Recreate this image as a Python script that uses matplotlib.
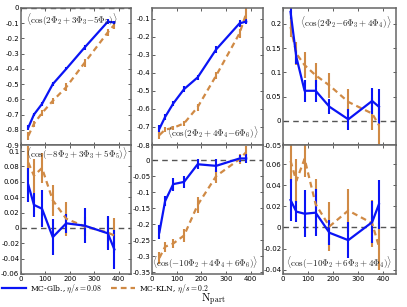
import matplotlib
matplotlib.use('Agg')
import matplotlib.pyplot as plt
from matplotlib.lines import Line2D

plt.rcParams['mathtext.fontset'] = 'cm'
plt.rcParams['font.size'] = 6

# Npart values (centrality bins)
npart = [30, 53, 86, 130, 185, 260, 355, 382]

# panel 1: <cos(2Phi2 + 3Phi3 - 5Phi5)>
glb1 = [-0.785, -0.70, -0.63, -0.50, -0.40, -0.26, -0.09, -0.095]
glb1_err = [0.015, 0.012, 0.012, 0.012, 0.01, 0.015, 0.015, 0.012]
kln1 = [-0.84, -0.76, -0.69, -0.61, -0.52, -0.36, -0.16, -0.11]
kln1_err = [0.025, 0.02, 0.02, 0.02, 0.025, 0.025, 0.025, 0.025]

# panel 2: <cos(2Phi2 + 4Phi4 - 6Phi6)>
glb2 = [-0.71, -0.645, -0.57, -0.49, -0.425, -0.27, -0.125, -0.115]
glb2_err = [0.02, 0.015, 0.015, 0.015, 0.015, 0.02, 0.02, 0.015]
kln2 = [-0.745, -0.715, -0.705, -0.68, -0.59, -0.415, -0.18, -0.07]
kln2_err = [0.02, 0.015, 0.01, 0.015, 0.02, 0.02, 0.025, 0.03]

# panel 3: <cos(2Phi2 - 6Phi3 + 4Phi4)>
glb3 = [0.225, 0.132, 0.062, 0.062, 0.029, 0.003, 0.041, 0.029]
glb3_err = [0.015, 0.015, 0.023, 0.023, 0.015, 0.022, 0.027, 0.036]
kln3 = [0.194, 0.139, 0.115, 0.094, 0.073, 0.039, 0.015, -0.009]
kln3_err = [0.02, 0.024, 0.027, 0.025, 0.026, 0.026, 0.033, 0.038]

# panel 4: <cos(-8Phi2 + 3Phi3 + 5Phi5)>
glb4 = [0.056, 0.03, 0.025, -0.012, 0.006, 0.003, -0.007, -0.028]
glb4_err = [0.022, 0.016, 0.024, 0.023, 0.012, 0.023, 0.022, 0.025]
kln4 = [0.085, 0.068, 0.078, 0.036, 0.012, 0.002, -0.006, -0.01]
kln4_err = [0.022, 0.022, 0.02, 0.02, 0.022, 0.012, 0.02, 0.023]

# panel 5: <cos(-10Phi2 + 4Phi4 + 6Phi6)>
glb5 = [-0.225, -0.128, -0.075, -0.068, -0.013, -0.018, 0.005, 0.005]
glb5_err = [0.022, 0.015, 0.02, 0.018, 0.015, 0.02, 0.01, 0.015]
kln5 = [-0.305, -0.27, -0.26, -0.235, -0.14, -0.05, 0.003, 0.025]
kln5_err = [0.02, 0.015, 0.015, 0.02, 0.025, 0.02, 0.015, 0.02]

# panel 6: <cos(-10Phi2 + 6Phi3 + 4Phi4)>
glb6 = [0.026, 0.015, 0.013, 0.014, -0.005, -0.012, 0.005, 0.022]
glb6_err = [0.02, 0.01, 0.022, 0.022, 0.012, 0.017, 0.02, 0.023]
kln6 = [0.063, 0.044, 0.065, 0.022, 0.001, 0.016, 0.004, -0.018]
kln6_err = [0.021, 0.021, 0.017, 0.024, 0.023, 0.02, 0.022, 0.022]

labels = [r'$\langle\cos(2\Phi_2+3\Phi_3{-}5\Phi_5)\rangle$',
          r'$\langle\cos(2\Phi_2+4\Phi_4{-}6\Phi_6)\rangle$',
          r'$\langle\cos(2\Phi_2{-}6\Phi_3+4\Phi_4)\rangle$',
          r'$\langle\cos(-8\Phi_2+3\Phi_3+5\Phi_5)\rangle$',
          r'$\langle\cos(-10\Phi_2+4\Phi_4+6\Phi_6)\rangle$',
          r'$\langle\cos(-10\Phi_2+6\Phi_3+4\Phi_4)\rangle$']

glb = [glb1, glb2, glb3, glb4, glb5, glb6]
glb_err = [glb1_err, glb2_err, glb3_err, glb4_err, glb5_err, glb6_err]
kln = [kln1, kln2, kln3, kln4, kln5, kln6]
kln_err = [kln1_err, kln2_err, kln3_err, kln4_err, kln5_err, kln6_err]

ylims = [(-0.9, 0.0), (-0.8, -0.04), (-0.05, 0.233),
         (-0.06, 0.108), (-0.355, 0.047), (-0.044, 0.078)]
yticks = [[-0.9, -0.8, -0.7, -0.6, -0.5, -0.4, -0.3, -0.2, -0.1, 0],
          [-0.8, -0.7, -0.6, -0.5, -0.4, -0.3, -0.2, -0.1],
          [-0.05, 0, 0.05, 0.1, 0.15, 0.2],
          [-0.06, -0.04, -0.02, 0, 0.02, 0.04, 0.06, 0.08, 0.1],
          [-0.35, -0.3, -0.25, -0.2, -0.15, -0.1, -0.05, 0],
          [-0.04, -0.02, 0, 0.02, 0.04, 0.06]]
# label position (x, y, ha, va) in axes coords
lab_pos = [(0.05, 0.97, 'left', 'top'), (0.96, 0.03, 'right', 'bottom'),
           (0.96, 0.95, 'right', 'top'), (0.05, 0.99, 'left', 'top'),
           (0.96, 0.02, 'right', 'bottom'), (0.5, 0.02, 'center', 'bottom')]

W, H = 407, 307
cols = [(21, 131), (152, 263), (283, 396)]
rows = [(8, 145), (145, 274)]

blue = '#0a14f5'
orange = '#d08a45'
spine_c = '#666666'

fig = plt.figure(figsize=(W / 100, H / 100), dpi=100)

for i in range(6):
    r, c = i // 3, i % 3
    x0, x1 = cols[c]
    y0, y1 = rows[r]
    ax = fig.add_axes([x0 / W, 1 - y1 / H, (x1 - x0) / W, (y1 - y0) / H])
    ax.errorbar(npart, kln[i], yerr=kln_err[i], color=orange, lw=1.6,
                ls=(0, (2.6, 1.8)), elinewidth=1.5, capsize=0)
    ax.errorbar(npart, glb[i], yerr=glb_err[i], color=blue, lw=1.6,
                elinewidth=1.5, capsize=0)
    ax.axhline(0, color='#555555', ls='--', lw=1.0, dashes=(4, 3), zorder=0)
    ax.set_xlim(0, 450)
    ax.set_ylim(*ylims[i])
    ax.set_xticks([0, 100, 200, 300, 400])
    ax.set_yticks(yticks[i])
    ax.set_yticklabels(['%g' % t for t in yticks[i]])
    if r == 0:
        ax.set_xticklabels([])
    ax.tick_params(direction='in', top=True, right=True, length=2.5,
                   width=0.6, labelsize=5, pad=1.2, color='#444444')
    for s in ax.spines.values():
        s.set_color(spine_c)
        s.set_linewidth(1.1)
    lx, ly, ha, va = lab_pos[i]
    ax.text(lx, ly, labels[i], transform=ax.transAxes, ha=ha, va=va,
            fontsize=6.5, color='#222222')

handles = [Line2D([], [], color=blue, lw=1.6),
           Line2D([], [], color=orange, lw=1.6, ls=(0, (2.6, 1.8)))]
fig.legend(handles, [r'MC-Glb., $\eta/s=0.08$', r'MC-KLN, $\eta/s=0.2$'],
           loc='center left', bbox_to_anchor=(0.0, 1 - 289 / H), ncol=2,
           frameon=False, handlelength=3.2, handletextpad=0.5,
           columnspacing=1.2, borderaxespad=0.0, borderpad=0.2,
           prop={'family': 'serif', 'size': 5.5})
fig.text(213 / W, 1 - 300 / H, r'$\mathrm{N_{part}}$', ha='center',
         va='center', fontsize=8)

fig.savefig('out.png', dpi=100)
